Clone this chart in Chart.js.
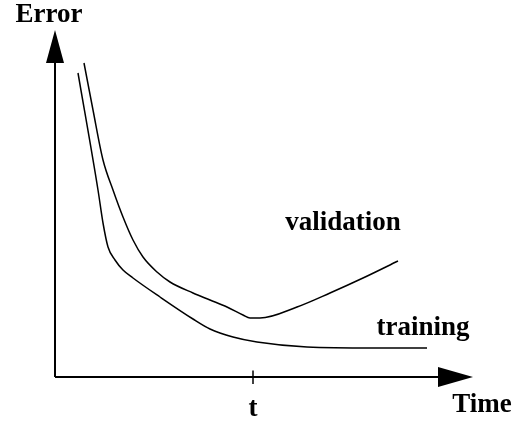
<!DOCTYPE html>
<html>
<head>
<meta charset="utf-8">
<script src="https://cdn.jsdelivr.net/npm/chart.js@4"></script>
<style>
  html, body { margin: 0; padding: 0; background: #fff; }
  #wrap { width: 521px; height: 430px; }
</style>
</head>
<body>
<div id="wrap"><canvas id="chart" width="521" height="430"></canvas></div>
<script>
// Curves (time units, error units).
const TRAIN_TIME = [2.3, 4.3, 4.8, 5.3, 6.0, 6.8, 7.8, 10.5, 13.8, 15.5, 17.8, 20.2, 25.2, 31.8, 37.2];
const TRAIN_ERROR = [30.4, 18.7, 15.4, 13.0, 11.7, 10.7, 9.9, 8.0, 5.8, 4.8, 4.0, 3.5, 3.0, 2.9, 2.9];

const VALID_TIME = [2.9, 3.8, 4.8, 5.8, 6.8, 7.8, 8.8, 10.2, 11.5, 13.8, 15.5, 17.2, 18.8, 19.5, 20.5, 24.2, 27.5, 30.8, 34.3];
const VALID_ERROR = [31.4, 26.7, 21.7, 18.7, 16.0, 13.7, 12.0, 10.5, 9.5, 8.4, 7.7, 7.0, 6.2, 5.9, 5.9, 7.0, 8.4, 9.9, 11.6];

// Axes and annotations
const X_AXIS_END = 41.8;   // arrow tip on time axis
const Y_AXIS_END = 34.7;   // arrow tip on error axis
const T_MARK = 19.8;       // the early-stopping point "t"
const X_LABEL = 'Time';
const Y_LABEL = 'Error';
const T_LABEL = 't';
const SERIES_LABELS = ['training', 'validation'];

const FONT = "bold 27px 'Liberation Serif', 'Times New Roman', serif";

function toPoints(xs, ys) {
  return xs.map((x, i) => ({ x, y: ys[i] }));
}

// Draws the arrowed axes, tick and text labels in data space.
const sketchAxes = {
  id: 'sketchAxes',
  afterDatasetsDraw(chart) {
    const { ctx, scales: { x, y } } = chart;
    const px = (v) => x.getPixelForValue(v);
    const py = (v) => y.getPixelForValue(v);
    const x0 = px(0), y0 = py(0);

    ctx.save();
    ctx.strokeStyle = '#000';
    ctx.fillStyle = '#000';
    ctx.lineWidth = 2;

    // error axis
    ctx.beginPath();
    ctx.moveTo(x0, y0);
    ctx.lineTo(x0, py(Y_AXIS_END - 2));
    ctx.stroke();
    ctx.beginPath();
    ctx.moveTo(x0, py(Y_AXIS_END));
    ctx.lineTo(x0 - 9, py(Y_AXIS_END - 3.3));
    ctx.lineTo(x0 + 9, py(Y_AXIS_END - 3.3));
    ctx.closePath();
    ctx.fill();

    // time axis
    ctx.beginPath();
    ctx.moveTo(x0, y0);
    ctx.lineTo(px(X_AXIS_END - 2), y0);
    ctx.stroke();
    ctx.beginPath();
    ctx.moveTo(px(X_AXIS_END), y0);
    ctx.lineTo(px(X_AXIS_END - 3.5), y0 - 10);
    ctx.lineTo(px(X_AXIS_END - 3.5), y0 + 10);
    ctx.closePath();
    ctx.fill();

    // tick at t
    ctx.lineWidth = 1.5;
    ctx.beginPath();
    ctx.moveTo(px(T_MARK), py(0.65));
    ctx.lineTo(px(T_MARK), py(-0.7));
    ctx.stroke();

    ctx.font = FONT;
    ctx.textBaseline = 'middle';
    ctx.textAlign = 'center';
    ctx.fillText(Y_LABEL, px(-0.6), py(36.2));
    ctx.fillText(T_LABEL, px(T_MARK), py(-3.2));
    ctx.fillText(X_LABEL, px(42.7), py(-2.8));
    ctx.fillText(SERIES_LABELS[1], px(28.8), py(15.4));
    ctx.fillText(SERIES_LABELS[0], px(36.8), py(4.9));
    ctx.restore();
  },
};

const lineStyle = {
  borderColor: '#000',
  borderWidth: 1.5,
  pointRadius: 0,
  fill: false,
  cubicInterpolationMode: 'monotone',
  showLine: true,
};

new Chart(document.getElementById('chart'), {
  type: 'scatter',
  data: {
    datasets: [
      { label: SERIES_LABELS[0], data: toPoints(TRAIN_TIME, TRAIN_ERROR), ...lineStyle },
      { label: SERIES_LABELS[1], data: toPoints(VALID_TIME, VALID_ERROR), ...lineStyle },
    ],
  },
  options: {
    responsive: false,
    animation: false,
    layout: { padding: 0 },
    plugins: { legend: { display: false }, tooltip: { enabled: false } },
    scales: {
      x: { type: 'linear', display: false, min: -5.5, max: 46.6 },
      y: { type: 'linear', display: false, min: -5.3, max: 37.7 },
    },
  },
  plugins: [sketchAxes],
});
</script>
</body>
</html>
